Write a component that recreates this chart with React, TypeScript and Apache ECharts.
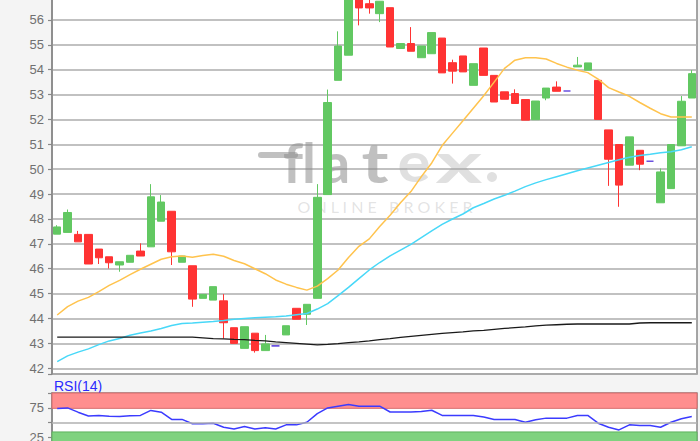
import React, { useEffect, useRef } from "react";
import * as echarts from "echarts";

// [open, close, low, high]
const candles: number[][] = [
  [47.39, 47.68, 47.39, 47.75], [47.46, 48.26, 47.46, 48.38], [47.38, 47.08, 47.08, 47.52], [47.38, 46.19, 46.19, 47.38],
  [46.79, 46.44, 46.19, 46.79], [46.48, 46.24, 46.01, 46.48], [46.15, 46.28, 45.88, 46.28], [46.26, 46.54, 46.26, 46.54],
  [46.71, 46.51, 46.51, 47.02], [46.88, 48.89, 46.88, 49.4], [47.91, 48.68, 47.91, 48.96], [48.31, 46.68, 46.15, 48.31],
  [46.26, 46.51, 46.26, 46.51], [46.12, 44.78, 44.47, 46.12], [44.81, 44.97, 44.81, 44.97], [44.74, 45.28, 44.74, 45.28],
  [44.71, 43.83, 43.2, 44.98], [43.63, 43.0, 43.0, 43.63], [42.8, 43.67, 42.8, 43.67], [43.41, 42.71, 42.63, 43.41],
  [42.71, 42.98, 42.71, 43.34], [42.9, 42.9, 42.9, 42.9], [43.34, 43.71, 43.34, 43.71], [44.41, 43.97, 43.97, 44.41],
  [44.17, 44.57, 43.74, 44.57], [44.81, 48.87, 44.81, 49.4], [48.98, 52.68, 48.98, 53.2], [53.57, 54.95, 53.57, 55.54],
  [54.58, 56.95, 54.58, 56.95], [56.9, 56.48, 55.78, 56.9], [56.65, 56.48, 56.25, 56.85], [56.25, 56.75, 55.91, 56.75],
  [56.49, 54.91, 54.91, 56.49], [54.85, 55.05, 54.85, 55.05], [55.05, 54.74, 54.74, 55.71], [54.48, 54.95, 54.48, 54.95],
  [54.64, 55.49, 54.64, 55.49], [55.27, 53.87, 53.87, 55.27], [54.28, 53.94, 53.44, 54.4], [54.55, 53.91, 53.91, 54.55],
  [53.37, 54.24, 53.37, 54.24], [54.87, 53.77, 53.77, 54.87], [53.77, 52.7, 52.7, 53.77], [53.11, 52.81, 52.81, 53.11],
  [53.04, 52.64, 52.64, 53.21], [52.8, 51.97, 51.97, 52.8], [51.99, 52.74, 51.99, 52.74], [52.86, 53.26, 52.77, 53.26],
  [53.3, 53.13, 53.13, 53.53], [53.14, 53.14, 53.14, 53.14], [54.11, 54.18, 54.11, 54.51], [53.98, 54.27, 53.98, 54.27],
  [53.57, 52.0, 52.0, 53.57], [51.58, 50.4, 49.33, 51.58], [50.99, 49.36, 48.49, 50.99], [50.16, 51.3, 50.16, 51.3],
  [50.76, 50.2, 49.96, 50.76], [50.32, 50.32, 50.32, 50.32], [48.65, 49.89, 48.65, 50.03], [49.22, 50.99, 49.22, 50.99],
  [50.94, 52.73, 50.94, 52.94], [52.86, 53.84, 52.86, 53.98],
];

const ma20: number[] = [
  44.14, 44.48, 44.7, 44.85, 45.08, 45.33, 45.53, 45.76, 45.98, 46.18, 46.38, 46.48, 46.51, 46.46, 46.53, 46.58,
  46.5, 46.33, 46.2, 46.0, 45.8, 45.55, 45.38, 45.25, 45.14, 45.3, 45.6, 45.95, 46.45, 46.9, 47.2, 47.7,
  48.15, 48.65, 49.1, 49.7, 50.25, 50.95, 51.45, 51.95, 52.45, 52.95, 53.5, 54.05, 54.38, 54.48, 54.48, 54.43,
  54.25, 54.1, 53.98, 53.88, 53.62, 53.28, 53.1, 52.93, 52.68, 52.45, 52.23, 52.1, 52.1, 52.1,
];

const ma50: number[] = [
  42.27, 42.5, 42.65, 42.78, 42.95, 43.1, 43.2, 43.33, 43.42, 43.5, 43.6, 43.72, 43.8, 43.82, 43.85, 43.88,
  43.92, 43.97, 44.0, 44.03, 44.05, 44.07, 44.1, 44.15, 44.2, 44.38, 44.6, 44.92, 45.25, 45.6, 45.95, 46.25,
  46.52, 46.75, 46.98, 47.25, 47.52, 47.78, 48.0, 48.2, 48.45, 48.62, 48.8, 48.95, 49.12, 49.3, 49.45, 49.58,
  49.7, 49.82, 49.94, 50.05, 50.16, 50.27, 50.38, 50.48, 50.55, 50.6, 50.66, 50.7, 50.78, 50.9,
];

const ma200: number[] = [
  43.25, 43.25, 43.25, 43.25, 43.25, 43.25, 43.25, 43.25, 43.25, 43.25, 43.25, 43.25, 43.25, 43.25, 43.22, 43.19,
  43.18, 43.16, 43.15, 43.12, 43.1, 43.06, 43.03, 43.0, 42.97, 42.94, 42.96, 42.99, 43.03, 43.06, 43.1, 43.15,
  43.19, 43.24, 43.28, 43.32, 43.36, 43.4, 43.43, 43.46, 43.5, 43.52, 43.56, 43.6, 43.63, 43.66, 43.7, 43.73,
  43.75, 43.77, 43.78, 43.78, 43.78, 43.78, 43.78, 43.78, 43.82, 43.83, 43.83, 43.83, 43.83, 43.83,
];

const rsi14: number[] = [
  73.6, 74.7, 67.5, 61, 62, 60.5, 60.3, 61.5, 62, 70.5, 67.5, 55.2, 55.2, 47.8, 47.8, 48.8,
  41.9, 39.1, 43.1, 39.1, 40.9, 39.1, 46, 46, 50.5, 65, 74.7, 77.6, 80.5, 77.6, 77.6, 77.6,
  67.8, 67.8, 67.8, 68.5, 70.7, 62, 62, 62, 62, 59.3, 55.2, 55.2, 55.2, 50.5, 54.6, 57.4,
  57.4, 57.4, 62, 62, 48.8, 41.9, 37.4, 46, 44.8, 44.8, 41.9, 50.5, 56.4, 60.3,
];

const priceTicks = [42, 43, 44, 45, 46, 47, 48, 49, 50, 51, 52, 53, 54, 55, 56, 57];
const rsiTickLabels = [25, 75];
const rsiUpper = 74;
const rsiLower = 34;

const days = candles.map((_, i) => String(i + 1));

const UP = "#62c862";
const DOWN = "#ff3333";
const DOJI = "#6a50e0";
const FONT = "Liberation Sans, Arial, sans-serif";

export default function App() {
  const ref = useRef<HTMLDivElement>(null);
  useEffect(() => {
    if (!ref.current) return;
    const chart = echarts.init(ref.current, undefined, { renderer: "svg" });
    const candleData = candles.map((c) =>
      c[0] === c[1]
        ? { value: c, itemStyle: { color: DOJI, color0: DOJI, borderColor: DOJI, borderColor0: DOJI, borderWidth: 1.6 } }
        : c
    );
    const wmDark = "rgba(140,140,140,0.55)";
    const wmLight = "rgba(160,160,160,0.33)";
    const letter = (t: string, x: number, fill: string, sx = 1) => ({
      type: "text",
      x,
      y: 161,
      scaleX: sx,
      z: 1,
      silent: true,
      style: {
        text: t,
        fill,
        font: "bold 56px Lato, sans-serif",
        textAlign: "center",
        textVerticalAlign: "middle",
      },
    });
    chart.setOption({
      animation: false,
      backgroundColor: "#f4f4f4",
      grid: [
        { left: 52, right: 3, top: -5, height: 379, outerBoundsMode: "none", containLabel: false, show: true, backgroundColor: "#ffffff", borderColor: "#888", borderWidth: 1.5 },
        { left: 52, right: 3, top: 393, height: 59, outerBoundsMode: "none", containLabel: false, show: true, backgroundColor: "#ffffff", borderColor: "#888", borderWidth: 1.5 },
      ],
      xAxis: [
        { type: "category", data: days, gridIndex: 0, boundaryGap: true, axisLine: { show: false }, axisTick: { show: false }, axisLabel: { show: false }, splitLine: { show: false } },
        { type: "category", data: days, gridIndex: 1, boundaryGap: true, axisLine: { show: false }, axisTick: { show: false }, axisLabel: { show: false }, splitLine: { show: false } },
      ],
      yAxis: [
        {
          type: "value",
          gridIndex: 0,
          min: 41.77,
          max: 57,
          splitNumber: 15,
          axisLine: { show: true, lineStyle: { color: "#888", width: 1.5 } },
          axisTick: { show: true, length: 4, lineStyle: { color: "#888", width: 1.2 } },
          axisLabel: {
            color: "#707070",
            fontSize: 13,
            fontFamily: FONT,
            margin: 8,
            formatter: (v: number) => (priceTicks.includes(v) ? String(v) : ""),
          },
          splitLine: { show: true, lineStyle: { color: "#adadad", width: 1.5 } },
        },
        {
          type: "value",
          gridIndex: 1,
          min: 0,
          max: 100,
          interval: 25,
          axisLine: { show: true, lineStyle: { color: "#888", width: 1.5 } },
          axisTick: { show: true, length: 4, lineStyle: { color: "#888", width: 1.2 } },
          axisLabel: {
            color: "#707070",
            fontSize: 13,
            fontFamily: FONT,
            margin: 8,
            formatter: (v: number) => (rsiTickLabels.includes(v) ? String(v) : ""),
          },
          splitLine: { show: false },
        },
      ],
      series: [
        {
          type: "candlestick",
          xAxisIndex: 0,
          yAxisIndex: 0,
          barWidth: 8,
          z: 3,
          data: candleData,
          itemStyle: { color: UP, color0: DOWN, borderColor: UP, borderColor0: DOWN, borderWidth: 1 },
        },
        { type: "line", xAxisIndex: 0, yAxisIndex: 0, data: ma20, showSymbol: false, z: 4, lineStyle: { color: "#ffc34d", width: 1.5 } },
        { type: "line", xAxisIndex: 0, yAxisIndex: 0, data: ma50, showSymbol: false, z: 4, lineStyle: { color: "#48d8f8", width: 1.5 } },
        { type: "line", xAxisIndex: 0, yAxisIndex: 0, data: ma200, showSymbol: false, z: 4, lineStyle: { color: "#1a1a1a", width: 1.3 } },
        {
          type: "line",
          xAxisIndex: 1,
          yAxisIndex: 1,
          data: rsi14,
          showSymbol: false,
          z: 4,
          lineStyle: { color: "#3b3bff", width: 1.5 },
          markArea: {
            silent: true,
            data: [
              [{ yAxis: rsiUpper, itemStyle: { color: "#ff8e8e", borderColor: "#d86b6b", borderWidth: 1 } }, { yAxis: 100 }],
              [{ yAxis: 0, itemStyle: { color: "#7fd27f", borderColor: "#5fb25f", borderWidth: 1 } }, { yAxis: rsiLower }],
            ],
          },
          markLine: {
            silent: true,
            symbol: "none",
            label: { show: false },
            lineStyle: { color: "#b0b0b0", width: 1.5, type: "solid" },
            data: [{ yAxis: 50 }],
          },
        },
      ],
      graphic: [
        { type: "rect", z: 1, silent: true, shape: { x: 258, y: 152, width: 40, height: 6, r: 3 }, style: { fill: wmDark } },
        letter("f", 293, wmDark),
        letter("l", 309, wmDark),
        letter("a", 336, wmDark),
        letter("t", 375, wmDark, 1.3),
        letter("e", 414, wmLight, 1.1),
        letter("x", 459, wmLight, 1.6),
        { type: "circle", z: 1, silent: true, shape: { cx: 492, cy: 177, r: 5 }, style: { fill: wmLight } },
        {
          type: "text",
          x: 385,
          y: 206,
          z: 1,
          silent: true,
          style: {
            text: "O N L I N E   B R O K E R",
            fill: "rgba(160,160,160,0.3)",
            font: "16px Lato, sans-serif",
            textAlign: "center",
            textVerticalAlign: "middle",
          },
        },
        {
          type: "text",
          x: 54,
          y: 386,
          silent: true,
          style: { text: "RSI(14)", fill: "#2a2aff", font: "14px Liberation Sans, Arial, sans-serif", textAlign: "left", textVerticalAlign: "middle" },
        },
      ],
    });
    return () => chart.dispose();
  }, []);
  return (
    <div
      ref={ref}
      style={{ position: "fixed", left: 0, top: 0, width: 700, height: 441, background: "#f4f4f4" }}
    />
  );
}
